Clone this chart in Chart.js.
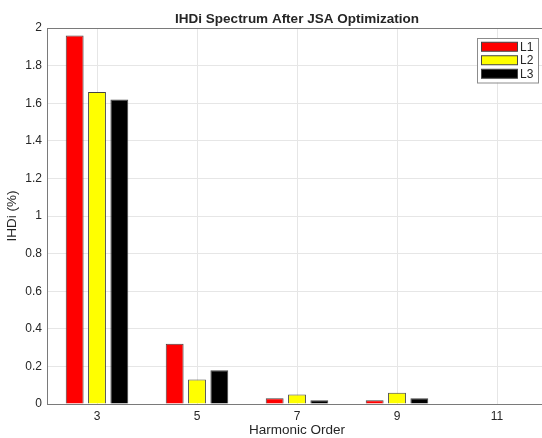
<!DOCTYPE html>
<html lang="en">
<head>
    <meta charset="UTF-8">
    <title>IHDi Spectrum</title>
    <script src="https://cdn.jsdelivr.net/npm/chart.js"></script>
    <style>
        html, body {
            margin: 0;
            padding: 0;
            background: #ffffff;
            overflow: hidden;
        }
        .chartbox {
            width: 547px;
            height: 438px;
        }
    </style>
</head>
<body>
    <div class="chartbox">
        <canvas id="ihdChart" width="547" height="438"></canvas>
    </div>

    <script>
        // Harmonic orders and per-phase IHDi values (%)
        const harmonics = ['3', '5', '7', '9', '11'];
        const phaseL1 = [1.96, 0.32, 0.03, 0.02, 0];
        const phaseL2 = [1.66, 0.13, 0.05, 0.06, 0];
        const phaseL3 = [1.62, 0.18, 0.02, 0.03, 0];

        const axisColor = '#7a7a7a';
        const gridColor = '#e6e6e6';
        const textColor = '#262626';
        const fontFamily = '"Liberation Sans", Arial, sans-serif';

        // Legend box drawn inside the plot, top right (like MATLAB)
        const boxLegend = {
            id: 'boxLegend',
            afterDraw(chart) {
                const c = chart.ctx;
                const sets = chart.data.datasets;
                const x0 = 477, y0 = 38, w = 61, rowH = 13.5;
                const h = rowH * sets.length + 4;
                c.save();
                c.fillStyle = '#ffffff';
                c.fillRect(x0, y0, w, h);
                c.strokeStyle = '#8c8c8c';
                c.lineWidth = 1;
                c.strokeRect(x0 + 0.5, y0 + 0.5, w, h);
                c.font = '12px ' + fontFamily;
                c.textBaseline = 'middle';
                sets.forEach((ds, i) => {
                    const cy = y0 + 2 + rowH * i + rowH / 2;
                    c.fillStyle = ds.backgroundColor;
                    c.fillRect(x0 + 4, cy - 4.5, 36, 9);
                    c.strokeStyle = '#444';
                    c.strokeRect(x0 + 4.5, cy - 4.5, 36, 9);
                    c.fillStyle = textColor;
                    c.fillText(ds.label, x0 + 43, cy + 0.5);
                });
                c.restore();
            }
        };

        const ctx = document.getElementById('ihdChart').getContext('2d');
        const chart = new Chart(ctx, {
            type: 'bar',
            data: {
                labels: harmonics,
                datasets: [
                    { label: 'L1', data: phaseL1, backgroundColor: '#ff0000' },
                    { label: 'L2', data: phaseL2, backgroundColor: '#ffff00' },
                    { label: 'L3', data: phaseL3, backgroundColor: '#000000' }
                ]
            },
            options: {
                responsive: false,
                animation: false,
                layout: { padding: 0 },
                datasets: {
                    bar: {
                        categoryPercentage: 0.67,
                        barPercentage: 0.8,
                        borderWidth: 1,
                        borderColor: '#444444'
                    }
                },
                plugins: {
                    legend: { display: false },
                    tooltip: { enabled: false },
                    title: {
                        display: true,
                        fullSize: false,
                        text: 'IHDi Spectrum After JSA Optimization',
                        color: textColor,
                        font: { family: fontFamily, size: 13.5, weight: 'bold' },
                        padding: { top: 11, bottom: 0.8 }
                    }
                },
                scales: {
                    x: {
                        grid: {
                            offset: false,
                            color: gridColor,
                            drawTicks: false
                        },
                        border: { color: axisColor },
                        ticks: {
                            color: textColor,
                            font: { family: fontFamily, size: 12 },
                            padding: 5
                        },
                        title: {
                            display: true,
                            text: 'Harmonic Order',
                            color: textColor,
                            font: { family: fontFamily, size: 13.5 },
                            padding: { top: 0, bottom: 0 }
                        },
                        afterFit(scale) { scale.height = 34; }
                    },
                    y: {
                        min: 0,
                        max: 2,
                        ticks: {
                            stepSize: 0.2,
                            color: textColor,
                            font: { family: fontFamily, size: 12 },
                            padding: 5,
                            callback: v => String(+v.toFixed(1))
                        },
                        grid: {
                            // top gridline doubles as the box edge
                            color: c => (c.tick && c.tick.value === 2 ? axisColor : gridColor),
                            drawTicks: false
                        },
                        border: { color: axisColor },
                        title: {
                            display: true,
                            text: 'IHDi (%)',
                            color: textColor,
                            font: { family: fontFamily, size: 13.5 },
                            padding: { top: 4, bottom: 0 }
                        },
                        afterFit(scale) { scale.width = 47; }
                    }
                }
            },
            plugins: [boxLegend]
        });
    </script>
</body>
</html>
